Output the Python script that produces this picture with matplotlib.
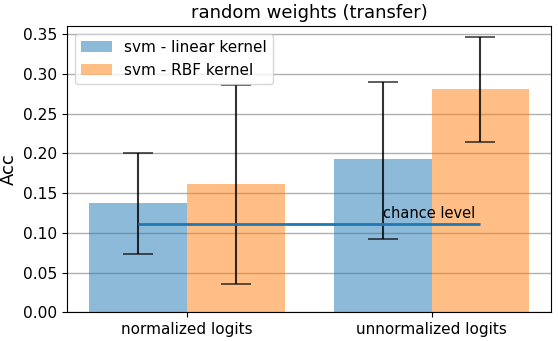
import numpy as np
import matplotlib.pyplot as plt

groups = ["normalized logits", "unnormalized logits"]
linear_acc = [0.138, 0.193]
rbf_acc = [0.161, 0.281]
# error bars: centre and half-width, at the bar centres
err_mid = [0.137, 0.1605, 0.1915, 0.280]
err_half = [0.063, 0.125, 0.0985, 0.066]
chance = 1.0 / 9

x = np.arange(len(groups))
width = 0.4
err_x = np.ravel(np.column_stack([x - width / 2, x + width / 2]))

fig, ax = plt.subplots(figsize=(5.58, 3.41), dpi=100)
ax.yaxis.grid(True, color="#b0b0b0", linewidth=1)
ax.set_axisbelow(True)

ax.bar(x - width / 2, linear_acc, width, color="tab:blue", alpha=0.5, label="svm - linear kernel")
ax.bar(x + width / 2, rbf_acc, width, color="tab:orange", alpha=0.5, label="svm - RBF kernel")
ax.errorbar(err_x, err_mid, yerr=err_half, fmt="none", ecolor="black", alpha=0.8,
            elinewidth=1.5, capsize=10.8, capthick=1.1)

ax.hlines(chance, err_x[0], err_x[-1], color="tab:blue", linewidth=2)
ax.text(0.8, 0.1187, "chance level", fontsize=10.5)

ax.set_xticks(x)
ax.set_xticklabels(groups, fontsize=11)
ax.set_yticks(np.arange(0, 0.36, 0.05))
ax.tick_params(axis="y", labelsize=11.2)
ax.set_ylim(0, 0.36)
ax.set_ylabel("Acc", fontsize=13)
ax.set_title("random weights (transfer)", fontsize=13)
ax.legend(loc="upper left", fontsize=11)

fig.subplots_adjust(left=0.1206, right=0.988, top=0.923, bottom=0.0836)
fig.savefig("out.png")
